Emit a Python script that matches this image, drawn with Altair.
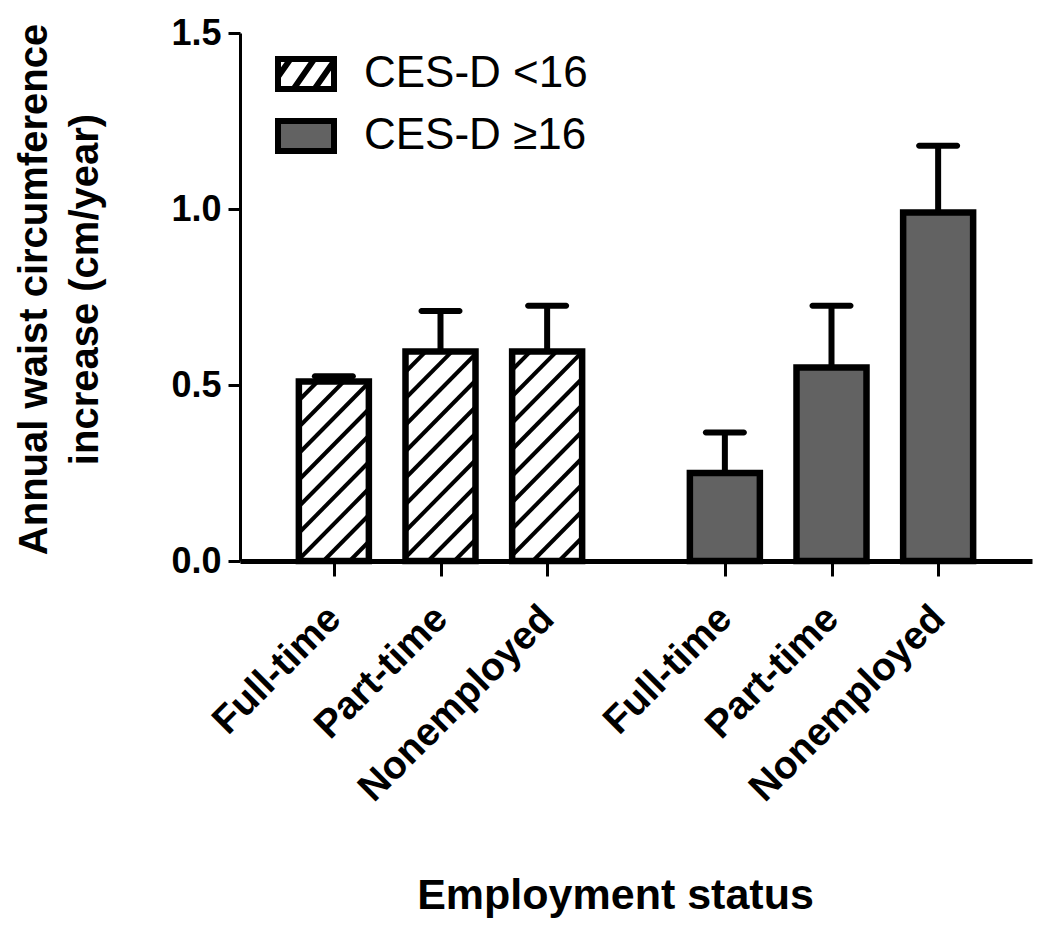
import json
import math
import altair as alt
import pandas as pd

# ---------------- data ----------------
employment = ["Full-time", "Part-time", "Nonemployed"]
groups = ["CES-D <16", "CES-D \u226516"]
mean_low = [0.51, 0.595, 0.595]
err_low = [0.015, 0.115, 0.13]
mean_high = [0.25, 0.55, 0.99]
err_high = [0.115, 0.175, 0.19]
y_ticks = [0.0, 0.5, 1.0, 1.5]

# ---------------- layout constants ----------------
W, H = 792, 528
SLOT = 3          # x units between bars inside a group
GROUP_STEP = 11   # x units between first bars of the two groups
X_MIN, X_MAX = -2.5, 19.5
Y_MAX = 1.5
PX_X = W / (X_MAX - X_MIN)
PX_Y = H / Y_MAX
BAR_W = 70
HATCH_GAP = 26.5
FONT = "Liberation Sans"

rows = []
for g, (means, errs) in enumerate([(mean_low, err_low), (mean_high, err_high)]):
    for i, (m, e) in enumerate(zip(means, errs)):
        rows.append(dict(group=groups[g], emp=employment[i],
                         pos=g * GROUP_STEP + i * SLOT,
                         mean=m, upper=m + e, mid=m / 2))
df = pd.DataFrame(rows)

# hatch segments for the first group, derived from bar heights
hatch = []
for r in rows:
    if r["group"] != groups[0]:
        continue
    cx = (r["pos"] - X_MIN) * PX_X
    xl, xr = cx - BAR_W / 2, cx + BAR_W / 2
    top = r["mean"] * PX_Y
    j0 = math.ceil((0 - xr) / HATCH_GAP)
    j1 = math.floor((top - xl) / HATCH_GAP)
    for j in range(j0, j1 + 1):
        k = j * HATCH_GAP
        X0 = max(xl, -k)
        X1 = min(xr, top - k)
        if X1 - X0 > 0.5:
            hatch.append(dict(pos=X0 / PX_X + X_MIN, x2=X1 / PX_X + X_MIN,
                              mean=(X0 + k) / PX_Y, y2=(X1 + k) / PX_Y))
hatch_df = pd.DataFrame(hatch)

tick_pos = [g * GROUP_STEP + i * SLOT for g in range(2) for i in range(3)]
label_expr = json.dumps(employment) + f"[(datum.value % {GROUP_STEP}) / {SLOT}]"

x_scale = alt.Scale(domain=[X_MIN, X_MAX], nice=False, zero=False)
y_scale = alt.Scale(domain=[0, Y_MAX], nice=False)

x_axis = alt.Axis(values=tick_pos, labelExpr=label_expr, labelAngle=-45,
                  labelAlign="right", labelBaseline="middle", labelFontSize=39,
                  labelFontWeight="bold", labelPadding=36, labelOverlap=False,
                  labelFlush=False, labelBound=False, labelLimit=0,
                  labelColor="black",
                  tickSize=15, tickWidth=3, tickColor="black",
                  domainWidth=5, domainColor="black", grid=False,
                  title="Employment status", titleFontSize=43,
                  titleFontWeight="bold", titleColor="black", titlePadding=113,
                  titleX=375, titleAlign="center")
y_axis = alt.Axis(values=y_ticks, format=".1f", labelFontSize=36,
                  labelFontWeight="bold", labelColor="black", labelPadding=7,
                  tickSize=12, tickWidth=3, tickColor="black",
                  domainWidth=3, domainColor="black", grid=False,
                  title=["Annual waist circumference", "increase (cm/year)"],
                  titleFontSize=40, titleFontWeight="bold", titleColor="black",
                  titleLineHeight=51, titlePadding=65, titleY=256)

fill_scale = alt.Scale(domain=groups, range=["white", "#626262"])
stroke_scale = alt.Scale(domain=groups, range=["black", "black"])
hatch_path = ("M-1,-0.54 L1,-0.54 L1,0.54 L-1,0.54 Z "
              "M-1,0.1 L-0.55,-0.54 M-0.45,0.54 L0.3,-0.54 M0.3,0.54 L1,-0.46")
rect_path = "M-1,-0.54 L1,-0.54 L1,0.54 L-1,0.54 Z"
shape_scale = alt.Scale(domain=groups, range=[hatch_path, rect_path])
legend = alt.Legend(title=None, orient="none", legendX=35, legendY=10,
                    labelFontSize=44, labelFont=FONT, labelFontWeight="normal",
                    labelColor="black", labelLimit=0, symbolSize=3136,
                    symbolStrokeWidth=6, symbolStrokeColor="black",
                    symbolOpacity=1, labelOffset=27, rowPadding=3)

X = alt.X("pos:Q", scale=x_scale, axis=x_axis)
Y = alt.Y("mean:Q", scale=y_scale, axis=y_axis)

base = alt.Chart(df)

legend_pts = base.mark_point(filled=True, strokeWidth=6, opacity=1).encode(
    x=X, y=alt.Y("mid:Q", scale=y_scale, axis=y_axis),
    shape=alt.Shape("group:N", scale=shape_scale, legend=legend),
    fill=alt.Fill("group:N", scale=fill_scale, legend=legend),
    stroke=alt.Stroke("group:N", scale=stroke_scale, legend=legend),
)
bar_fill = base.mark_bar(size=BAR_W, strokeWidth=0, opacity=1).encode(
    x=X, y=Y, fill=alt.Fill("group:N", scale=fill_scale, legend=None),
)
hatch_lines = alt.Chart(hatch_df).mark_rule(strokeWidth=4, color="black").encode(
    x=X, x2="x2:Q", y=Y, y2="y2:Q",
)
bar_outline = base.mark_bar(size=BAR_W, fillOpacity=0, stroke="black",
                            strokeWidth=6.5).encode(x=X, y=Y)
err_rule = base.mark_rule(strokeWidth=6, color="black").encode(
    x=X, y=Y, y2="upper:Q")
caps = base.mark_tick(orient="horizontal", size=44, thickness=6,
                      cornerRadius=3, color="black", opacity=1).encode(
    x=X, y=alt.Y("upper:Q", scale=y_scale, axis=y_axis))

chart = alt.layer(legend_pts, bar_fill, hatch_lines, bar_outline, err_rule, caps).properties(
    width=W, height=H,
    autosize=alt.AutoSizeParams(type="none"),
    padding={"left": 232, "top": 25, "right": 10, "bottom": 362},
).configure(font=FONT).configure_view(stroke=None)

chart.save("out.html", embed_options={"renderer": "svg", "actions": False})
